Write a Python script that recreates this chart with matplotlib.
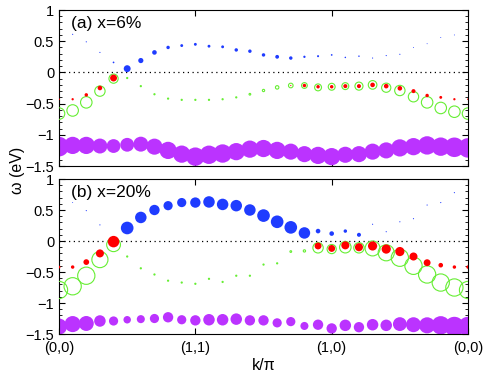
import numpy as np
import matplotlib
matplotlib.use('Agg')
import matplotlib.pyplot as plt
from matplotlib.ticker import MultipleLocator

plt.rcParams['font.family'] = ['Liberation Sans', 'DejaVu Sans']

### k path: 31 points, (0,0)->(1,1)->(1,0)->(0,0)
k = np.arange(31) / 10.0
k_ticks = [0, 1, 2, 3]
k_labels = ['(0,0)', '(1,1)', '(1,0)', '(0,0)']

### panel (a) x=6%   energies (eV) and weights (marker diameter, px)
a_blue_w = [0.65, 0.61, 0.49, 0.32, 0.16, 0.06, 0.19, 0.32, 0.40, 0.43, 0.45,
            0.42, 0.41, 0.36, 0.34, 0.28, 0.25, 0.23, 0.25, 0.26, 0.28,
            0.24, 0.26, 0.23, 0.27, 0.29, 0.40, 0.46, 0.56, 0.60, 0.65]
a_blue_s = [0, 1, 1, 1, 1.5, 6, 4.5, 4, 3, 2.5, 2.5,
            2.5, 2.5, 3, 3, 3, 3.3, 3, 2, 1.8, 1.5,
            1.3, 1.3, 1, 1, 1, 0.8, 0.8, 0.8, 0.8, 0]
a_red_w = [-0.43, -0.43, -0.36, -0.25, -0.09, -0.09, -0.22, -0.35, -0.42, -0.44, -0.44,
           -0.44, -0.43, -0.41, -0.35, -0.29, -0.24, -0.21, -0.21, -0.23, -0.23,
           -0.22, -0.22, -0.20, -0.22, -0.255, -0.30, -0.37, -0.40, -0.43, -0.43]
a_red_s = [1.5, 2, 3, 4, 6, 0, 0, 0, 0, 0, 0,
           0, 0, 0, 0, 0, 0, 1, 3, 3, 3,
           3.5, 3.5, 4, 4, 4, 3.5, 3, 2.5, 2, 1.5]
a_green_w = [-0.66, -0.61, -0.48, -0.30, -0.10, -0.09, -0.22, -0.35, -0.42, -0.44, -0.44,
             -0.44, -0.43, -0.40, -0.35, -0.29, -0.24, -0.21, -0.21, -0.24, -0.23,
             -0.22, -0.22, -0.20, -0.245, -0.29, -0.39, -0.48, -0.57, -0.63, -0.66]
a_green_s = [10, 10, 10, 9, 8, 1, 1, 1, 1, 1, 1,
             1, 1, 1, 1.5, 2, 3, 4, 5, 6, 6,
             6, 7, 7.5, 8, 9, 9, 10, 10, 10, 10]
a_purp_w = [-1.19, -1.17, -1.17, -1.18, -1.18, -1.16, -1.15, -1.19, -1.25, -1.31, -1.35,
            -1.32, -1.30, -1.27, -1.23, -1.22, -1.25, -1.27, -1.31, -1.33, -1.35,
            -1.32, -1.31, -1.27, -1.25, -1.21, -1.19, -1.17, -1.19, -1.20, -1.21]
a_purp_s = [17, 15, 15, 13, 12, 12, 13, 14, 15, 15, 16,
            16, 16, 15, 15, 15, 15, 14, 14, 15, 15,
            14, 14, 14, 14, 15, 15, 16, 16, 17, 17]

### panel (b) x=20%
b_blue_w = [0.75, 0.62, 0.49, 0.26, 0.10, 0.21, 0.38, 0.50, 0.57, 0.62, 0.62,
            0.63, 0.59, 0.57, 0.50, 0.41, 0.31, 0.22, 0.13, 0.16, 0.12,
            0.16, 0.10, 0.27, 0.15, 0.31, 0.36, 0.58, 0.62, 0.78, 0.85]
b_blue_s = [0, 0.8, 1, 1, 0, 11, 10, 9, 8, 8, 9,
            10, 10, 10, 10, 11, 11, 11, 10, 4, 4,
            3, 3.5, 1, 1, 1, 1, 1, 1, 1, 0]
b_red_w = [-0.42, -0.42, -0.34, -0.20, -0.01, -0.25, -0.44, -0.54, -0.64, -0.67, -0.69,
           -0.61, -0.66, -0.56, -0.56, -0.38, -0.36, -0.17, -0.16, -0.08, -0.12,
           -0.07, -0.10, -0.08, -0.13, -0.17, -0.25, -0.35, -0.39, -0.42, -0.42]
b_red_s = [2.5, 3, 5, 7, 10, 0, 0, 0, 0, 0, 0,
           0, 0, 0, 0, 0, 0, 0, 0, 6, 6,
           7, 7, 8, 8, 8, 7, 6, 4, 3, 3]
b_green_w = [-0.79, -0.73, -0.56, -0.30, -0.06, -0.25, -0.44, -0.54, -0.64, -0.67, -0.69,
             -0.61, -0.66, -0.56, -0.56, -0.38, -0.36, -0.17, -0.16, -0.11, -0.13,
             -0.10, -0.11, -0.12, -0.19, -0.27, -0.40, -0.54, -0.67, -0.75, -0.79]
b_green_s = [15, 15, 15, 14, 12, 1, 1, 1, 1, 1, 1,
             1, 1, 1, 1, 1, 1, 1.5, 2, 9, 8,
             10, 9, 13, 14, 15, 15, 15, 15, 15, 15]
b_purp_w = [-1.38, -1.34, -1.33, -1.29, -1.29, -1.27, -1.26, -1.25, -1.23, -1.27, -1.28,
            -1.27, -1.27, -1.26, -1.28, -1.28, -1.32, -1.30, -1.37, -1.35, -1.41,
            -1.36, -1.39, -1.35, -1.36, -1.34, -1.35, -1.36, -1.36, -1.38, -1.38]
b_purp_s = [14, 14, 13, 10, 8, 6.5, 7, 8, 9, 8, 9,
            10, 10, 10, 9, 9, 8, 8, 7, 9, 9,
            10, 9, 10, 10, 12, 13, 14, 16, 17, 17]

c_blue = '#1f3cff'
c_red = '#ff0000'
c_green = '#66ee33'
c_purp = '#bb33ff'


def area(d):
    # diameter in px (dpi 100) -> scatter area in pt^2, a bit enlarged
    return (np.array(d) * 0.72 * 1.15) ** 2


def panel(ax, label, blue_w, blue_s, red_w, red_s, green_w, green_s, purp_w, purp_s):
    ax.axhline(0, color='k', ls=(0, (1, 2.8)), lw=0.9, zorder=1)
    ax.scatter(k, purp_w, s=area(purp_s), c=c_purp, lw=0, zorder=2)
    ax.scatter(k, green_w, s=area(green_s), facecolors='none', edgecolors=c_green,
               lw=0.8, zorder=3)
    ax.scatter(k, red_w, s=area(red_s), c=c_red, lw=0, zorder=4)
    ax.scatter(k, blue_w, s=area(blue_s), c=c_blue, lw=0, zorder=5)
    ax.set_xlim(0, 3)
    ax.set_ylim(-1.5, 1)
    ax.set_xticks(k_ticks)
    ax.yaxis.set_major_locator(MultipleLocator(0.5))
    ax.yaxis.set_minor_locator(MultipleLocator(0.1))
    ax.set_yticks([1, 0.5, 0, -0.5, -1, -1.5])
    ax.set_yticklabels(['1', '0.5', '0', '\u22120.5', '\u22121', '\u22121.5'])
    ax.tick_params(which='both', direction='in', top=True, right=True, labelsize=10.5)
    ax.tick_params(which='major', length=4)
    ax.tick_params(which='minor', length=2)
    for sp in ax.spines.values():
        sp.set_linewidth(0.8)
    ax.text(0.03, 0.96, label, transform=ax.transAxes, fontsize=12.5, va='top', ha='left')


fig = plt.figure(figsize=(4.91, 3.79), dpi=100)
ax1 = fig.add_axes([0.1202, 0.562, 0.833, 0.4116])
ax2 = fig.add_axes([0.1202, 0.1187, 0.833, 0.409])

panel(ax1, '(a) x=6%', a_blue_w, a_blue_s, a_red_w, a_red_s,
      a_green_w, a_green_s, a_purp_w, a_purp_s)
panel(ax2, '(b) x=20%', b_blue_w, b_blue_s, b_red_w, b_red_s,
      b_green_w, b_green_s, b_purp_w, b_purp_s)

ax1.set_xticklabels([])
ax2.set_xticklabels(k_labels)
ax2.tick_params(axis='x', pad=5)
ax2.set_xlabel('k/\u03c0', fontsize=11.5, labelpad=2)
fig.text(0.035, 0.55, '\u03c9 (eV)', rotation=90, fontsize=11.5, ha='center', va='center')

fig.savefig('out.png', dpi=100)
